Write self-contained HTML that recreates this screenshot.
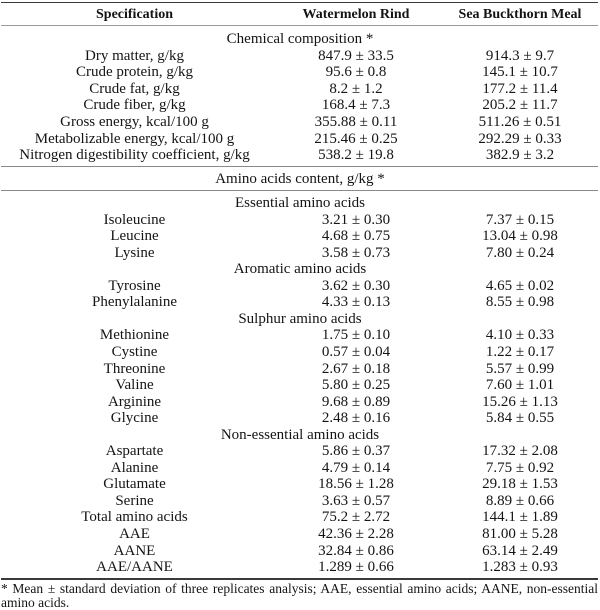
<!DOCTYPE html>
<html>
<head>
<meta charset="utf-8">
<style>
  html,body{margin:0;padding:0;background:#fff;}
  body{width:600px;height:608px;position:relative;overflow:hidden;
       font-family:"Liberation Serif","DejaVu Serif",serif;color:#141414;font-size:15px;}
  .row{position:absolute;left:0;width:600px;height:16px;line-height:16px;white-space:nowrap;margin-top:2px;}
  .c1{position:absolute;left:0;width:269px;text-align:center;}
  .c2{position:absolute;left:256px;width:200px;text-align:center;}
  .c3{position:absolute;left:420px;width:200px;text-align:center;}
  .sp{position:absolute;left:0;width:600px;text-align:center;}
  .hd{font-weight:bold;font-size:14px;}
  .ln{position:absolute;left:1px;width:597px;}
  .fn{position:absolute;left:1px;width:597px;font-size:13.5px;line-height:13px;margin-top:1.5px;}
</style>
</head>
<body>
<div class="ln" style="top:1.5px;height:1.6px;background:#3a3a3a;"></div>
<div class="ln" style="top:25px;height:1px;background:#9a9a9a;"></div>
<div class="ln" style="top:165.5px;height:1px;background:#8a8a8a;"></div>
<div class="ln" style="top:189.5px;height:1px;background:#8a8a8a;"></div>
<div class="ln" style="top:578px;height:1.6px;background:#3a3a3a;"></div>

<div class="row hd" style="top:5px"><span class="c1">Specification</span><span class="c2">Watermelon Rind</span><span class="c3">Sea Buckthorn Meal</span></div>

<div class="row" style="top:29px"><span class="sp">Chemical composition *</span></div>
<div class="row" style="top:45.6px"><span class="c1">Dry matter, g/kg</span><span class="c2">847.9 ± 33.5</span><span class="c3">914.3 ± 9.7</span></div>
<div class="row" style="top:62.2px"><span class="c1">Crude protein, g/kg</span><span class="c2">95.6 ± 0.8</span><span class="c3">145.1 ± 10.7</span></div>
<div class="row" style="top:78.8px"><span class="c1">Crude fat, g/kg</span><span class="c2">8.2 ± 1.2</span><span class="c3">177.2 ± 11.4</span></div>
<div class="row" style="top:95.4px"><span class="c1">Crude fiber, g/kg</span><span class="c2">168.4 ± 7.3</span><span class="c3">205.2 ± 11.7</span></div>
<div class="row" style="top:112px"><span class="c1">Gross energy, kcal/100 g</span><span class="c2">355.88 ± 0.11</span><span class="c3">511.26 ± 0.51</span></div>
<div class="row" style="top:128.6px"><span class="c1">Metabolizable energy, kcal/100 g</span><span class="c2">215.46 ± 0.25</span><span class="c3">292.29 ± 0.33</span></div>
<div class="row" style="top:145.2px"><span class="c1">Nitrogen digestibility coefficient, g/kg</span><span class="c2">538.2 ± 19.8</span><span class="c3">382.9 ± 3.2</span></div>

<div class="row" style="top:169px"><span class="sp">Amino acids content, g/kg *</span></div>

<div class="row" style="top:193px"><span class="sp">Essential amino acids</span></div>
<div class="row" style="top:209.55px"><span class="c1">Isoleucine</span><span class="c2">3.21 ± 0.30</span><span class="c3">7.37 ± 0.15</span></div>
<div class="row" style="top:226.1px"><span class="c1">Leucine</span><span class="c2">4.68 ± 0.75</span><span class="c3">13.04 ± 0.98</span></div>
<div class="row" style="top:242.65px"><span class="c1">Lysine</span><span class="c2">3.58 ± 0.73</span><span class="c3">7.80 ± 0.24</span></div>
<div class="row" style="top:259.2px"><span class="sp">Aromatic amino acids</span></div>
<div class="row" style="top:275.75px"><span class="c1">Tyrosine</span><span class="c2">3.62 ± 0.30</span><span class="c3">4.65 ± 0.02</span></div>
<div class="row" style="top:292.3px"><span class="c1">Phenylalanine</span><span class="c2">4.33 ± 0.13</span><span class="c3">8.55 ± 0.98</span></div>
<div class="row" style="top:308.85px"><span class="sp">Sulphur amino acids</span></div>
<div class="row" style="top:325.4px"><span class="c1">Methionine</span><span class="c2">1.75 ± 0.10</span><span class="c3">4.10 ± 0.33</span></div>
<div class="row" style="top:341.95px"><span class="c1">Cystine</span><span class="c2">0.57 ± 0.04</span><span class="c3">1.22 ± 0.17</span></div>
<div class="row" style="top:358.5px"><span class="c1">Threonine</span><span class="c2">2.67 ± 0.18</span><span class="c3">5.57 ± 0.99</span></div>
<div class="row" style="top:375.05px"><span class="c1">Valine</span><span class="c2">5.80 ± 0.25</span><span class="c3">7.60 ± 1.01</span></div>
<div class="row" style="top:391.6px"><span class="c1">Arginine</span><span class="c2">9.68 ± 0.89</span><span class="c3">15.26 ± 1.13</span></div>
<div class="row" style="top:408.15px"><span class="c1">Glycine</span><span class="c2">2.48 ± 0.16</span><span class="c3">5.84 ± 0.55</span></div>
<div class="row" style="top:424.7px"><span class="sp">Non-essential amino acids</span></div>
<div class="row" style="top:441.25px"><span class="c1">Aspartate</span><span class="c2">5.86 ± 0.37</span><span class="c3">17.32 ± 2.08</span></div>
<div class="row" style="top:457.8px"><span class="c1">Alanine</span><span class="c2">4.79 ± 0.14</span><span class="c3">7.75 ± 0.92</span></div>
<div class="row" style="top:474.35px"><span class="c1">Glutamate</span><span class="c2">18.56 ± 1.28</span><span class="c3">29.18 ± 1.53</span></div>
<div class="row" style="top:490.9px"><span class="c1">Serine</span><span class="c2">3.63 ± 0.57</span><span class="c3">8.89 ± 0.66</span></div>
<div class="row" style="top:507.45px"><span class="c1">Total amino acids</span><span class="c2">75.2 ± 2.72</span><span class="c3">144.1 ± 1.89</span></div>
<div class="row" style="top:524px"><span class="c1">AAE</span><span class="c2">42.36 ± 2.28</span><span class="c3">81.00 ± 5.28</span></div>
<div class="row" style="top:540.55px"><span class="c1">AANE</span><span class="c2">32.84 ± 0.86</span><span class="c3">63.14 ± 2.49</span></div>
<div class="row" style="top:557.1px"><span class="c1">AAE/AANE</span><span class="c2">1.289 ± 0.66</span><span class="c3">1.283 ± 0.93</span></div>

<div class="fn" style="top:580px;text-align:justify;text-align-last:justify;">* Mean ± standard deviation of three replicates analysis; AAE, essential amino acids; AANE, non-essential</div>
<div class="fn" style="top:594px;text-align:left;">amino acids.</div>
</body>
</html>
